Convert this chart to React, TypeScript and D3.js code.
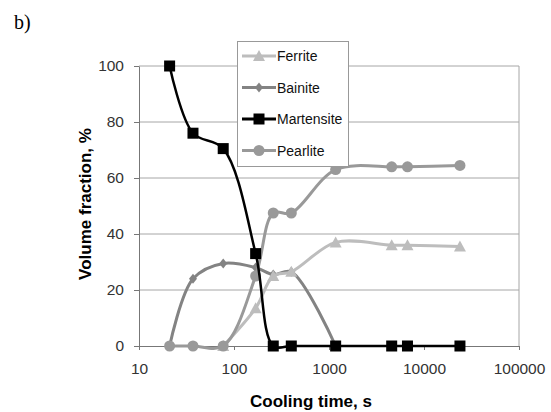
import React, {useEffect, useRef} from 'react';
import * as d3 from 'd3';

// cooling times (s) shared by all series
const times = [21, 37, 77, 169, 259, 401, 1175, 4570, 6700, 23900];
const ferrite = [null, null, 0, 13.5, 25, 26.5, 37, 36, 36, 35.5];
const bainite = [0, 24, 29.5, 28, 25.5, 26.5, 0, null, null, null];
const martensite = [100, 76, 70.5, 33, 0, 0, 0, 0, 0, 0];
const pearlite = [0, 0, 0, 25, 47.5, 47.5, 63, 64, 64, 64.5];

const xTicks = [10, 100, 1000, 10000, 100000];
const yTicks = [0, 20, 40, 60, 80, 100];

const seriesList = [
    {name: 'Ferrite', values: ferrite, color: '#bdbdbd', marker: 'triangle'},
    {name: 'Bainite', values: bainite, color: '#838383', marker: 'diamond'},
    {name: 'Martensite', values: martensite, color: '#000000', marker: 'square'},
    {name: 'Pearlite', values: pearlite, color: '#999999', marker: 'circle'},
];

const drawOrder = ['Bainite', 'Ferrite', 'Pearlite', 'Martensite'];

const App = () => {
    const ref = useRef<SVGSVGElement>(null);

    useEffect(() => {
        const svg = d3.select(ref.current);
        svg.selectAll('*').remove();

        const left = 139, right = 519, top = 66, bottom = 346;
        const font = 'Liberation Sans, Arial, sans-serif';

        const x = d3.scaleLog().domain([10, 100000]).range([left, right]);
        const y = d3.scaleLinear().domain([0, 100]).range([bottom, top]);

        svg.append('text')
            .attr('x', 14).attr('y', 29)
            .attr('font-family', 'Liberation Serif, Times New Roman, serif')
            .attr('font-size', 20)
            .text('b)');

        // gridlines
        svg.append('g').selectAll('line')
            .data(yTicks.filter(d => d > 0))
            .enter().append('line')
            .attr('x1', left).attr('x2', right)
            .attr('y1', d => y(d)).attr('y2', d => y(d))
            .attr('stroke', '#a6a6a6').attr('stroke-width', 1);

        // right border
        svg.append('line')
            .attr('x1', right).attr('x2', right).attr('y1', top).attr('y2', bottom)
            .attr('stroke', '#a6a6a6').attr('stroke-width', 1);

        // y axis
        const yAxis = svg.append('g')
            .attr('transform', `translate(${left},0)`)
            .call(d3.axisLeft(y).tickValues(yTicks).tickSize(5).tickSizeOuter(0));
        yAxis.select('.domain').attr('stroke', '#777');
        yAxis.selectAll('.tick line').attr('stroke', '#777');
        yAxis.selectAll('.tick text')
            .attr('font-family', font).attr('font-size', 15.5).attr('fill', '#333').attr('x', -15);

        // x axis
        const xAxis = svg.append('g')
            .attr('transform', `translate(0,${bottom})`)
            .call(d3.axisBottom(x).tickValues(xTicks).tickFormat(d3.format('d')).tickSize(4).tickSizeOuter(0));
        xAxis.select('.domain').attr('stroke', '#777');
        xAxis.selectAll('.tick line').attr('stroke', '#777');
        xAxis.selectAll('.tick text')
            .attr('font-family', font).attr('font-size', 15.5).attr('fill', '#333').attr('dy', '1.35em');

        svg.append('text')
            .attr('x', 311).attr('y', 407)
            .attr('text-anchor', 'middle')
            .attr('font-family', font).attr('font-size', 17).attr('font-weight', 'bold')
            .text('Cooling time, s');

        svg.append('text')
            .attr('transform', `translate(91,204) rotate(-90)`)
            .attr('text-anchor', 'middle')
            .attr('font-family', font).attr('font-size', 17).attr('font-weight', 'bold')
            .text('Volume fraction, %');

        const drawMarker = (g, type, cx, cy, color) => {
            if (type === 'square') {
                g.append('rect').attr('x', cx - 5.5).attr('y', cy - 5.5).attr('width', 11).attr('height', 11).attr('fill', color);
            } else if (type === 'circle') {
                g.append('circle').attr('cx', cx).attr('cy', cy).attr('r', 5.5).attr('fill', color);
            } else if (type === 'triangle') {
                g.append('path').attr('d', `M${cx},${cy - 6}L${cx + 6},${cy + 5}L${cx - 6},${cy + 5}Z`).attr('fill', color);
            } else {
                g.append('path').attr('d', `M${cx},${cy - 5}L${cx + 4},${cy}L${cx},${cy + 5}L${cx - 4},${cy}Z`).attr('fill', color);
            }
        };

        const line = d3.line<[number, number]>()
            .x(d => x(d[0]))
            .y(d => y(d[1]))
            .curve(d3.curveCatmullRom.alpha(0.5));

        drawOrder.forEach(name => {
            const s = seriesList.find(v => v.name === name);
            const pts = times.map((t, i) => [t, s.values[i]]).filter(p => p[1] !== null) as [number, number][];
            const g = svg.append('g');
            g.append('path')
                .attr('d', line(pts))
                .attr('fill', 'none')
                .attr('stroke', s.color)
                .attr('stroke-width', s.name === 'Martensite' ? 2.5 : 3);
            pts.forEach(p => drawMarker(g, s.marker, x(p[0]), y(p[1]), s.color));
        });

        // legend
        const lg = svg.append('g');
        lg.append('rect')
            .attr('x', 237.5).attr('y', 41.5).attr('width', 111).attr('height', 125)
            .attr('fill', 'white').attr('stroke', '#999');
        seriesList.forEach((s, i) => {
            const cy = 56 + i * 31.5;
            lg.append('line')
                .attr('x1', 242).attr('x2', 276).attr('y1', cy).attr('y2', cy)
                .attr('stroke', s.color).attr('stroke-width', 3);
            drawMarker(lg, s.marker, 259, cy, s.color);
            lg.append('text')
                .attr('x', 277).attr('y', cy + 5)
                .attr('font-family', font).attr('font-size', 14).attr('fill', '#111')
                .text(s.name);
        });
    }, []);

    return (
        <div>
            <svg ref={ref} width={551} height={412} style={{position: 'absolute', left: 0, top: 0}}/>
        </div>
    );
};

export default App;
